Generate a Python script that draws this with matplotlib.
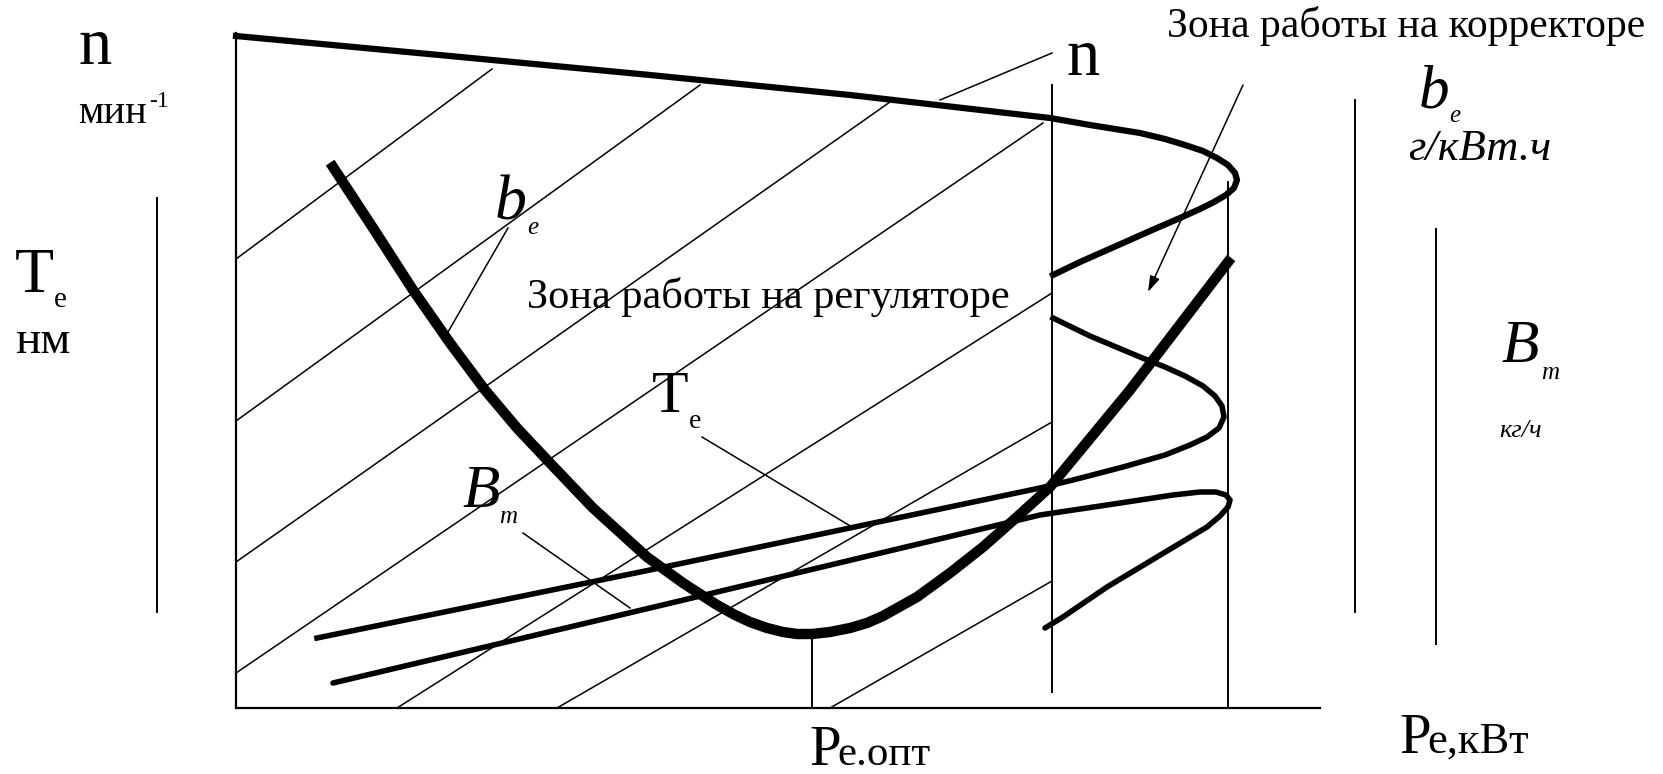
import numpy as np
import matplotlib.pyplot as plt

# curve points (pixel space of the 1663x774 picture, y down)
n_x = [236, 450, 650, 850, 1050, 1090, 1140, 1165, 1185, 1203, 1217, 1228, 1235, 1237,
       1234, 1226, 1214, 1200, 1180, 1150, 1123, 1080, 1053]
n_y = [36, 56, 75, 95, 118, 125, 133, 139, 145, 151, 158, 165, 173, 180,
       188, 195, 202, 209, 218, 231, 243, 262, 275]

be_x = [333, 373, 413, 450, 485, 517, 550, 593, 647, 683, 717, 735, 750, 767, 783, 797, 812,
        830, 850, 867, 883, 917, 950, 983, 1017, 1050, 1083, 1130, 1228]
be_y = [167, 228, 290, 343, 390, 428, 463, 508, 557, 583, 605, 615, 622, 628, 632, 634, 634,
        632, 628, 623, 616, 597, 573, 547, 517, 487, 447, 390, 262]

te_x = [317, 650, 1040, 1073, 1123, 1165, 1190, 1207, 1219, 1224, 1222, 1215, 1203,
        1185, 1165, 1140, 1090, 1053]
te_y = [638, 570, 488, 480, 467, 455, 445, 437, 428, 417, 406, 396, 386,
        376, 367, 357, 336, 318]

bm_x = [333, 650, 1040, 1107, 1173, 1200, 1216, 1226, 1230, 1228, 1220, 1207,
        1157, 1107, 1063, 1045]
bm_y = [683, 608, 515, 505, 495, 492, 492, 495, 500, 507, 516, 527,
        557, 587, 617, 628]

# hatching (x0, y0, x1, y1)
hatch = [(236, 259, 492, 69), (236, 421, 700, 85), (236, 562, 890, 102),
         (236, 673, 1043, 123), (397, 708, 1052, 293), (557, 708, 1052, 422),
         (830, 708, 1052, 581)]
leaders = [(940, 100, 1052, 53), (448, 332, 508, 228), (702, 437, 852, 527), (523, 533, 630, 608)]
verticals = [(1052, 85, 692), (1228, 182, 708), (812, 634, 708),
             (157, 198, 612), (1355, 100, 612), (1436, 229, 644)]

fig = plt.figure(figsize=(16.63, 7.74), dpi=100)
ax = fig.add_axes([0, 0, 1, 1])
ax.set_xlim(0, 1663)
ax.set_ylim(774, 0)
ax.axis('off')

# axes of the chart
ax.plot([236, 236], [33, 708], color='k', lw=1.6)
ax.plot([236, 1320], [708, 708], color='k', lw=1.6)

for x0, y0, x1, y1 in hatch:
    ax.plot([x0, x1], [y0, y1], color='k', lw=1.1)
for x0, y0, x1, y1 in leaders:
    ax.plot([x0, x1], [y0, y1], color='k', lw=1.1)
for x, y0, y1 in verticals:
    ax.plot([x, x], [y0, y1], color='k', lw=1.4)

ax.plot(n_x, n_y, color='k', lw=4.5, solid_joinstyle='round')
ax.plot(te_x, te_y, color='k', lw=4.0, solid_joinstyle='round')
ax.plot(bm_x, bm_y, color='k', lw=4.0, solid_joinstyle='round', solid_capstyle='round')
ax.plot(be_x, be_y, color='k', lw=7.5, solid_joinstyle='round')

ax.annotate('', xy=(1148, 292), xytext=(1243, 85),
            arrowprops=dict(arrowstyle='-|>,head_length=0.8,head_width=0.25',
                            lw=1.1, color='k', mutation_scale=12, shrinkA=0, shrinkB=0))

serif = 'Liberation Serif'
renderer = fig.canvas.get_renderer()

def t(x, y, s, size, italic=False):
    return ax.text(x, y, s, fontsize=size, family=serif,
                   style='italic' if italic else 'normal', va='baseline', ha='left')

def chain(x, y, parts, gap=0):
    # parts: (text, size, italic, dy); each piece starts where the previous ends
    for s, size, italic, dy in parts:
        txt = t(x, y + dy, s, size, italic)
        x += txt.get_window_extent(renderer).width + gap

t(78, 64, 'n', 48)
chain(78, 123, [('мин', 29, False, 0), ('-1', 17, False, -16)], gap=2)
chain(15, 292, [('T', 46, False, 0), ('e', 21, False, 15)])
t(15, 353, 'нм', 34)
t(1067, 75, 'n', 48)
t(1167, 37, 'Зона работы на корректоре', 30)
chain(1419, 107, [('b', 44, True, 0), ('e', 18, True, 15)])
t(1408, 160, 'г/кВт.ч', 32, True)
chain(1501, 362, [('В', 44, True, 0), ('т', 18, True, 17)], gap=3)
t(1499, 437, 'кг/ч', 19, True)
chain(495, 220, [('b', 46, True, 0), ('e', 18, True, 14)])
t(527, 308, 'Зона работы на регуляторе', 30.5)
chain(652, 412, [('T', 43, False, 0), ('e', 20, False, 16)])
chain(462, 507, [('В', 44, True, 0), ('т', 18, True, 16)])
chain(809, 765, [('P', 41, False, 0), ('e.опт', 31, False, 0)], gap=-3)
chain(1399, 753, [('P', 41, False, 0), ('e,кВт', 32, False, 0)], gap=-3)

fig.savefig('out.png', dpi=100)
